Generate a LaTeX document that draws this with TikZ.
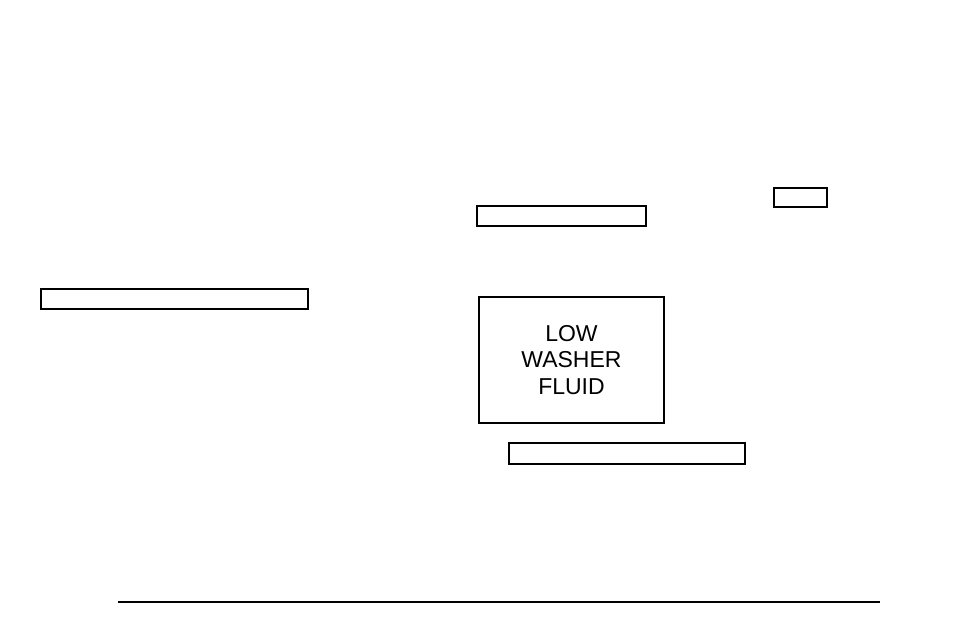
\documentclass[tikz,border=0pt]{standalone}
\usepackage{fontspec}
\setmainfont{Liberation Sans}
\begin{document}
\begin{tikzpicture}[x=1pt,y=-1pt,
  blank/.style={draw=black,line width=1.5pt,fill=white},
  main/.style={draw=black,line width=1.5pt}]
\useasboundingbox (0,0) rectangle (954,636);
\draw[blank] (774,188) rectangle (827,207);
\draw[blank] (477,206) rectangle (646,226);
\draw[blank] (41,289) rectangle (308,309);
\node[main,minimum width=185pt,minimum height=126pt,inner sep=0pt,align=center,
  font=\fontsize{23}{26.5}\selectfont] (lbl) at (571.5,360) {LOW\\WASHER\\FLUID};
\draw[blank] (509,443) rectangle (745,464);
\coordinate (la) at (118,602);
\coordinate (lb) at (880,602);
\draw[line width=2.5pt] (la) -- (lb);
\end{tikzpicture}
\end{document}
